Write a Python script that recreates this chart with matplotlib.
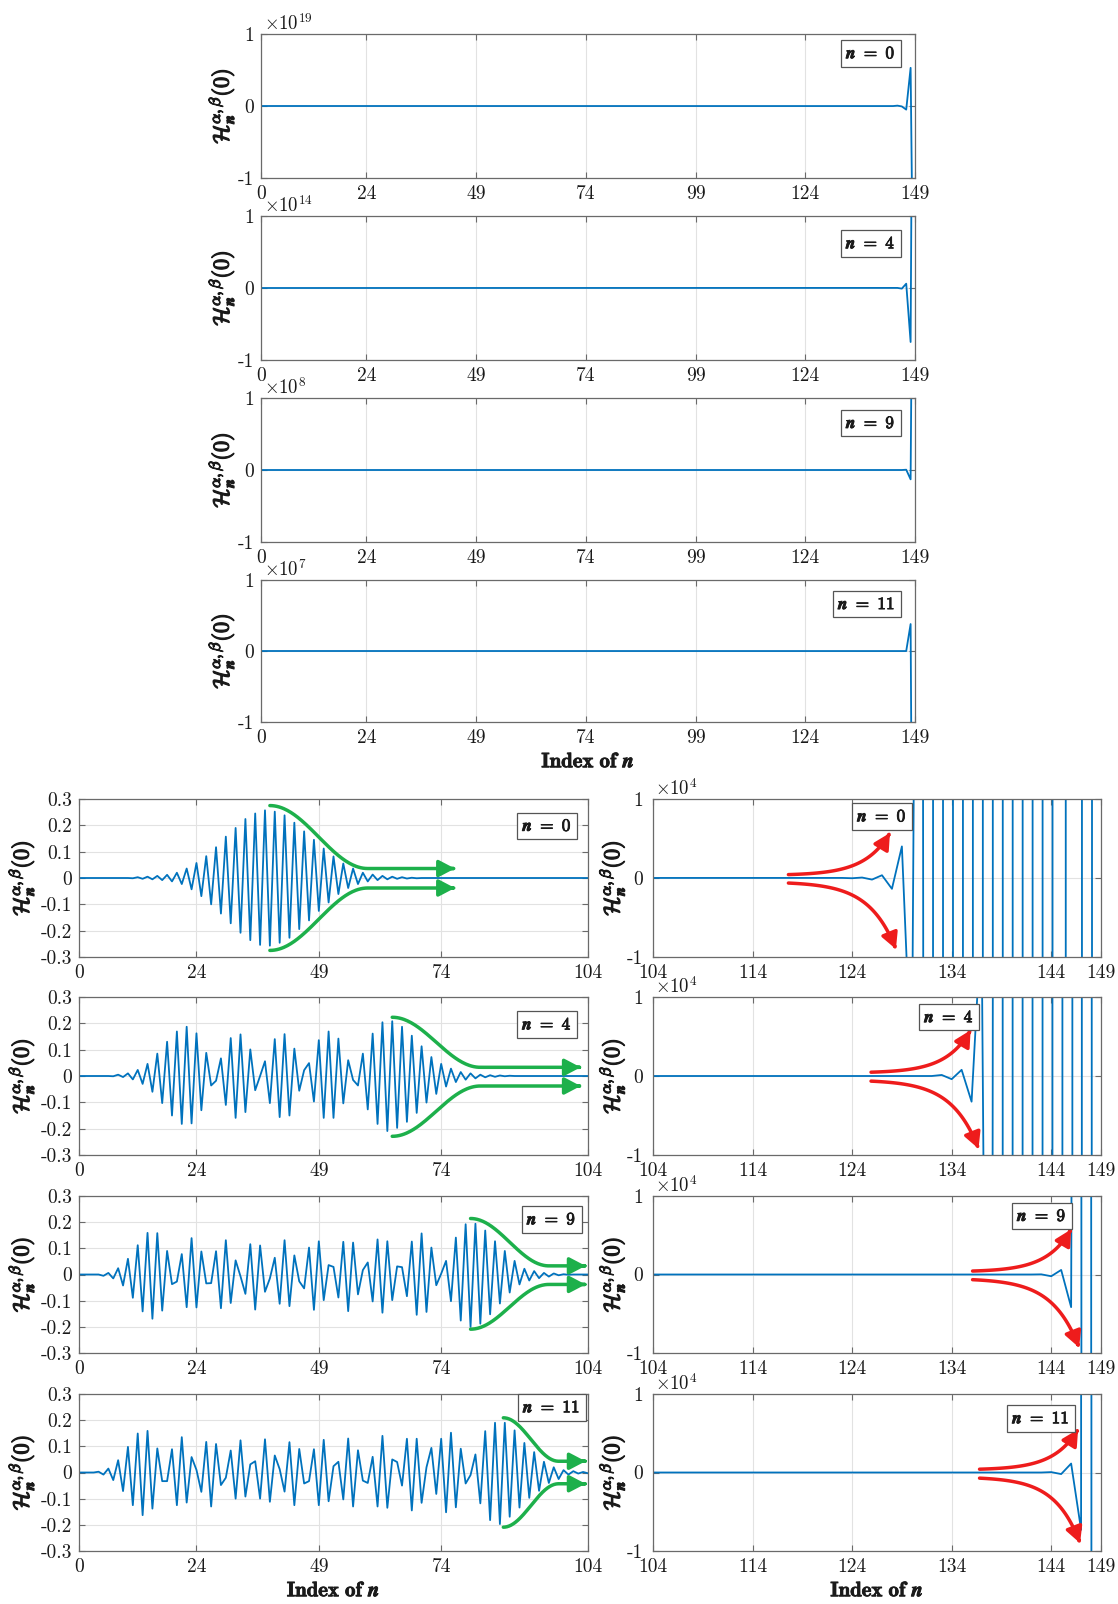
import numpy as np
import matplotlib
matplotlib.use("Agg")
import matplotlib.pyplot as plt
import matplotlib.patheffects as pe
from matplotlib.patches import FancyArrowPatch
from matplotlib.path import Path

plt.rcParams.update({
    "font.family": "cmr10",
    "mathtext.fontset": "cm",
    "axes.unicode_minus": False,
    "axes.formatter.use_mathtext": True,
})

# ---------------- data (index 0..149) ----------------
index = list(range(150))

h_n0 = ([0.0] * 11 +
        [-0.001, 0.003, -0.003, 0.005, -0.005, 0.008, -0.008, 0.012, -0.013, 0.020,
         -0.023, 0.036, -0.043, 0.057, -0.069, 0.083, -0.100, 0.117, -0.135, 0.157,
         -0.172, 0.190, -0.208, 0.224, -0.236, 0.245, -0.254, 0.257, -0.257, 0.252,
         -0.246, 0.238, -0.227, 0.210, -0.194, 0.177, -0.161, 0.145, -0.125, 0.112,
         -0.093, 0.082, -0.061, 0.055, -0.038, 0.036, -0.023, 0.020, -0.013, 0.013,
         -0.008, 0.008, -0.005, 0.005, -0.003, 0.003, -0.002, 0.001, -0.001] +
        [0.0] * 53 +
        [10.0, -30.0, 60.0, -200.0, 350.0, -1370.0, 4000.0,
         -2.6e4, 1.7e5, -1.1e6, 7.4e6, -4.9e7, 3.2e8, -2.1e9, 1.4e10, -9.3e10, 6.1e11,
         -4.0e12, 2.7e13, -1.8e14, 1.2e15, -7.8e15, 5.1e16, -6.0e16, -5.0e17, 5.3e18, -5.0e19])

h_n4 = ([0.0] * 7 +
        [-0.001, 0.005, -0.004, 0.010, -0.013, 0.023, -0.030, 0.046, -0.060, 0.085,
         -0.103, 0.130, -0.150, 0.169, -0.182, 0.187, -0.180, 0.162, -0.130, 0.088,
         -0.036, -0.018, 0.067, -0.110, 0.144, -0.159, 0.158, -0.137, 0.101, -0.054,
         0.000, 0.056, -0.103, 0.140, -0.156, 0.159, -0.150, 0.104, -0.056, 0.022,
         0.049, -0.097, 0.136, -0.159, 0.169, -0.159, 0.142, -0.104, 0.060, -0.015,
         -0.036, 0.085, -0.127, 0.161, -0.182, 0.204, -0.209, 0.208, -0.197, 0.187,
         -0.174, 0.153, -0.140, 0.113, -0.101, 0.072, -0.068, 0.046, -0.040, 0.028,
         -0.023, 0.015, -0.014, 0.010, -0.009, 0.005, -0.005, 0.003, -0.003, 0.002,
         -0.001, 0.001] +
        [0.0] * 44 +
        [130.0, -400.0, 780.0, -3250.0, 2.0e4, -1.4e5, 1.0e6, -7.0e6, 5.0e7, -3.5e8,
         2.5e9, -1.7e10, 1.2e11, -8.5e11, 6.0e12, -7.5e13, 1.0e15])

h_n9 = ([0.0] * 5 +
        [-0.005, 0.006, -0.015, 0.024, -0.042, 0.060, -0.089, 0.112, -0.141, 0.159,
         -0.169, 0.158, -0.138, 0.090, -0.037, -0.027, 0.078, -0.125, 0.139, -0.126,
         0.088, -0.034, -0.033, 0.089, -0.129, 0.131, -0.109, 0.054, -0.007, -0.074,
         0.116, -0.134, 0.111, -0.066, -0.015, 0.064, -0.112, 0.131, -0.121, 0.073,
         -0.026, -0.053, 0.103, -0.135, 0.127, -0.098, 0.036, 0.029, -0.088, 0.125,
         -0.140, 0.122, -0.076, 0.017, 0.046, -0.103, 0.134, -0.146, 0.127, -0.098,
         0.031, 0.028, -0.083, 0.126, -0.154, 0.157, -0.143, 0.103, -0.041, 0.003,
         0.052, -0.102, 0.141, -0.176, 0.192, -0.200, 0.194, -0.188, 0.168, -0.152,
         0.127, -0.111, 0.090, -0.069, 0.052, -0.038, 0.022, -0.023, 0.013, -0.014,
         0.006, -0.008, 0.004, -0.003, 0.001, -0.001] +
        [0.0] * 42 +
        [20.0, -220.0, 580.0, -4160.0, 4.0e5, -1.3e7, 8.0e8])

h_n11 = ([0.0] * 4 +
         [0.003, -0.008, 0.015, -0.029, 0.047, -0.071, 0.098, -0.125, 0.149, -0.163,
          0.159, -0.138, 0.092, -0.033, -0.033, 0.089, -0.125, 0.135, -0.115, 0.059,
          0.010, -0.074, 0.117, -0.130, 0.109, -0.048, -0.020, 0.084, -0.100, 0.123,
          -0.092, 0.031, 0.043, -0.100, 0.127, -0.112, 0.065, 0.013, -0.073, 0.116,
          -0.125, 0.090, -0.042, -0.033, 0.089, -0.125, 0.125, -0.110, 0.024, 0.041,
          -0.103, 0.130, -0.130, 0.085, -0.031, -0.040, 0.060, -0.130, 0.140, -0.135,
          0.050, 0.040, -0.050, 0.129, -0.145, 0.129, -0.116, 0.020, 0.094, -0.082,
          0.129, -0.152, 0.152, -0.133, 0.091, -0.042, -0.010, 0.069, -0.118, 0.158,
          -0.182, 0.190, -0.197, 0.190, -0.169, 0.161, -0.134, 0.113, -0.097, 0.078,
          -0.070, 0.041, -0.040, 0.020, -0.025, 0.009, -0.008, 0.005, -0.004, 0.002,
          -0.003] +
         [0.0] * 39 +
         [50.0, -200.0, 1140.0, -7300.0, 3.8e6, -1.0e8])

series = {0: h_n0, 4: h_n4, 9: h_n9, 11: h_n11}
n_values = [0, 4, 9, 11]
top_exponents = [19, 14, 8, 7]

top_xticks = [0, 24, 49, 74, 99, 124, 149]
left_xticks = [0, 24, 49, 74, 104]
right_xticks = [104, 114, 124, 134, 144, 149]
left_yticks = [-0.3, -0.2, -0.1, 0, 0.1, 0.2, 0.3]
left_yticklabels = ["-0.3", "-0.2", "-0.1", "0", "0.1", "0.2", "0.3"]
unit_yticks = [-1, 0, 1]

# ---------------- styling ----------------
W, H = 1118, 1604
BLUE = "#0072BD"
GREEN = "#1db04b"
RED = "#ee1c1c"
SPINE = "#6a6a6a"
GRID = "#e2e2e2"
TICKFS = 14
YLABEL = r"$\mathcal{H}_{\mathbfit{n}}^{\alpha,\beta}(\mathbf{0})$"
XLABEL = r"$\mathbf{Index\ of}\ \mathbfit{n}$"
BOLD = [pe.withStroke(linewidth=0.9, foreground="#1a1a1a")]
BOLD_THIN = [pe.withStroke(linewidth=0.6, foreground="#1a1a1a")]

fig = plt.figure(figsize=(W / 100, H / 100), dpi=100)


def add_ax(x0, x1, y0, y1):
    return fig.add_axes([x0 / W, 1 - y1 / H, (x1 - x0) / W, (y1 - y0) / H])


def style(ax):
    for s in ax.spines.values():
        s.set_color(SPINE)
        s.set_linewidth(0.9)
    ax.tick_params(direction="in", top=True, right=True, length=4,
                   color=SPINE, labelsize=TICKFS, pad=5, labelcolor="#1a1a1a")
    ax.grid(True, color=GRID, lw=0.8)
    ax.set_axisbelow(True)


def set_ylabel(ax, pad):
    lab = ax.set_ylabel(YLABEL, fontsize=16, labelpad=pad, color="#1a1a1a")
    lab.set_path_effects(BOLD)


def set_xlabel(ax):
    lab = ax.set_xlabel(XLABEL, fontsize=15, labelpad=4, color="#1a1a1a")
    lab.set_path_effects(BOLD_THIN)


def label_box(ax, n, x, y):
    t = ax.text(x, y, r"$\mathbfit{n}\ \mathbf{=\ %d}$" % n, transform=ax.transAxes,
                ha="right", va="center", fontsize=12.5, zorder=6, color="#1a1a1a",
                bbox=dict(boxstyle="square,pad=0.3", fc="white", ec="#555555", lw=0.9))
    t.set_path_effects(BOLD_THIN)


def multiplier(ax, e):
    ax.text(0.005, 1.003, r"$\times10^{%d}$" % e, transform=ax.transAxes,
            ha="left", va="bottom", fontsize=13.5, color="#1a1a1a")


def curve_arrow(ax, xs, ys, color):
    verts = np.column_stack([xs, ys])
    codes = [Path.MOVETO] + [Path.LINETO] * (len(xs) - 1)
    p = FancyArrowPatch(path=Path(verts, codes), transform=ax.transData,
                        arrowstyle="-|>,head_length=0.8,head_width=0.42",
                        mutation_scale=12, color=color, lw=2.5, zorder=5,
                        joinstyle="round", capstyle="round")
    ax.add_patch(p)


def green_pair(ax, xa, xb, xend, ytop, yflat_top, ybot, yflat_bot):
    xs = np.linspace(xa, xend, 160)
    t = np.clip((xs - xa) / (xb - xa), 0, 1)
    s = 0.5 * (1 + np.cos(np.pi * t))
    curve_arrow(ax, xs, yflat_top + (ytop - yflat_top) * s, GREEN)
    curve_arrow(ax, xs, yflat_bot + (ybot - yflat_bot) * s, GREEN)


def red_pair(ax, x0, x1u, x1l, y0u, y1u, y0l, y1l, k=4.0):
    t = np.linspace(0, 1, 120)
    e = (np.exp(k * t) - 1) / (np.exp(k) - 1)
    curve_arrow(ax, x0 + (x1u - x0) * t, y0u + (y1u - y0u) * e, RED)
    curve_arrow(ax, x0 + (x1l - x0) * t, y0l + (y1l - y0l) * e, RED)


# ---------------- top block ----------------
top_rows = [(34, 178), (216, 360), (398, 542), (580, 722)]
top_box_y = [0.866, 0.81, 0.826, 0.83]
for i, n in enumerate(n_values):
    ax = add_ax(261, 915, *top_rows[i])
    style(ax)
    scale = 10.0 ** top_exponents[i]
    ax.plot(index, np.array(series[n]) / scale, color=BLUE, lw=1.3)
    ax.set_xlim(0, 149)
    ax.set_ylim(-1, 1)
    ax.set_xticks(top_xticks)
    ax.set_xticklabels([str(v) for v in top_xticks])
    ax.set_yticks(unit_yticks)
    ax.set_yticklabels(["-1", "0", "1"])
    set_ylabel(ax, 1)
    multiplier(ax, top_exponents[i])
    label_box(ax, n, 0.97, top_box_y[i])
    if i == 3:
        set_xlabel(ax)

# ---------------- bottom block ----------------
bot_rows = [(799, 957), (997, 1155), (1196, 1353), (1394, 1551)]
left_box = [(0.968, 0.83), (0.968, 0.826), (0.977, 0.851), (0.985, 0.915)]
right_box = [(0.566, 0.89), (0.716, 0.872), (0.923, 0.873), (0.93, 0.845)]

green_specs = [
    (39.0, 59.0, 76.8, 0.275, 0.036, -0.275, -0.038),
    (64.0, 82.0, 102.5, 0.223, 0.033, -0.229, -0.038),
    (80.0, 96.0, 103.5, 0.214, 0.033, -0.209, -0.038),
    (86.7, 98.0, 103.5, 0.209, 0.043, -0.209, -0.043),
]
red_specs = [
    (117.6, 127.8, 128.4, 430, 5700, -640, -9000),
    (125.9, 135.9, 136.7, 480, 5800, -650, -9200),
    (136.1, 146.0, 146.8, 440, 5750, -660, -9300),
    (136.8, 146.7, 146.9, 420, 5500, -720, -9000),
]

for i, n in enumerate(n_values):
    # left
    ax = add_ax(79, 588, *bot_rows[i])
    style(ax)
    ax.plot(index, series[n], color=BLUE, lw=1.3)
    ax.set_xlim(0, 104)
    ax.set_ylim(-0.3, 0.3)
    ax.set_xticks(left_xticks)
    ax.set_xticklabels([str(v) for v in left_xticks])
    ax.set_yticks(left_yticks)
    ax.set_yticklabels(left_yticklabels)
    set_ylabel(ax, 3)
    label_box(ax, n, *left_box[i])
    g = green_specs[i]
    green_pair(ax, g[0], g[1], g[2], g[3], g[4], g[5], g[6])
    if i == 3:
        set_xlabel(ax)

    # right
    ax = add_ax(653, 1101, *bot_rows[i])
    style(ax)
    ax.plot(index, np.array(series[n]) / 1e4, color=BLUE, lw=1.3)
    ax.set_xlim(104, 149)
    ax.set_ylim(-1, 1)
    ax.set_xticks(right_xticks)
    ax.set_xticklabels([str(v) for v in right_xticks])
    ax.set_yticks(unit_yticks)
    ax.set_yticklabels(["-1", "0", "1"])
    ax.tick_params(axis="y", pad=7)
    set_ylabel(ax, 0)
    multiplier(ax, 4)
    label_box(ax, n, *right_box[i])
    r = red_specs[i]
    red_pair(ax, r[0], r[1], r[2], r[3] / 1e4, r[4] / 1e4, r[5] / 1e4, r[6] / 1e4)
    if i == 3:
        set_xlabel(ax)

fig.savefig("out.png", dpi=100)
